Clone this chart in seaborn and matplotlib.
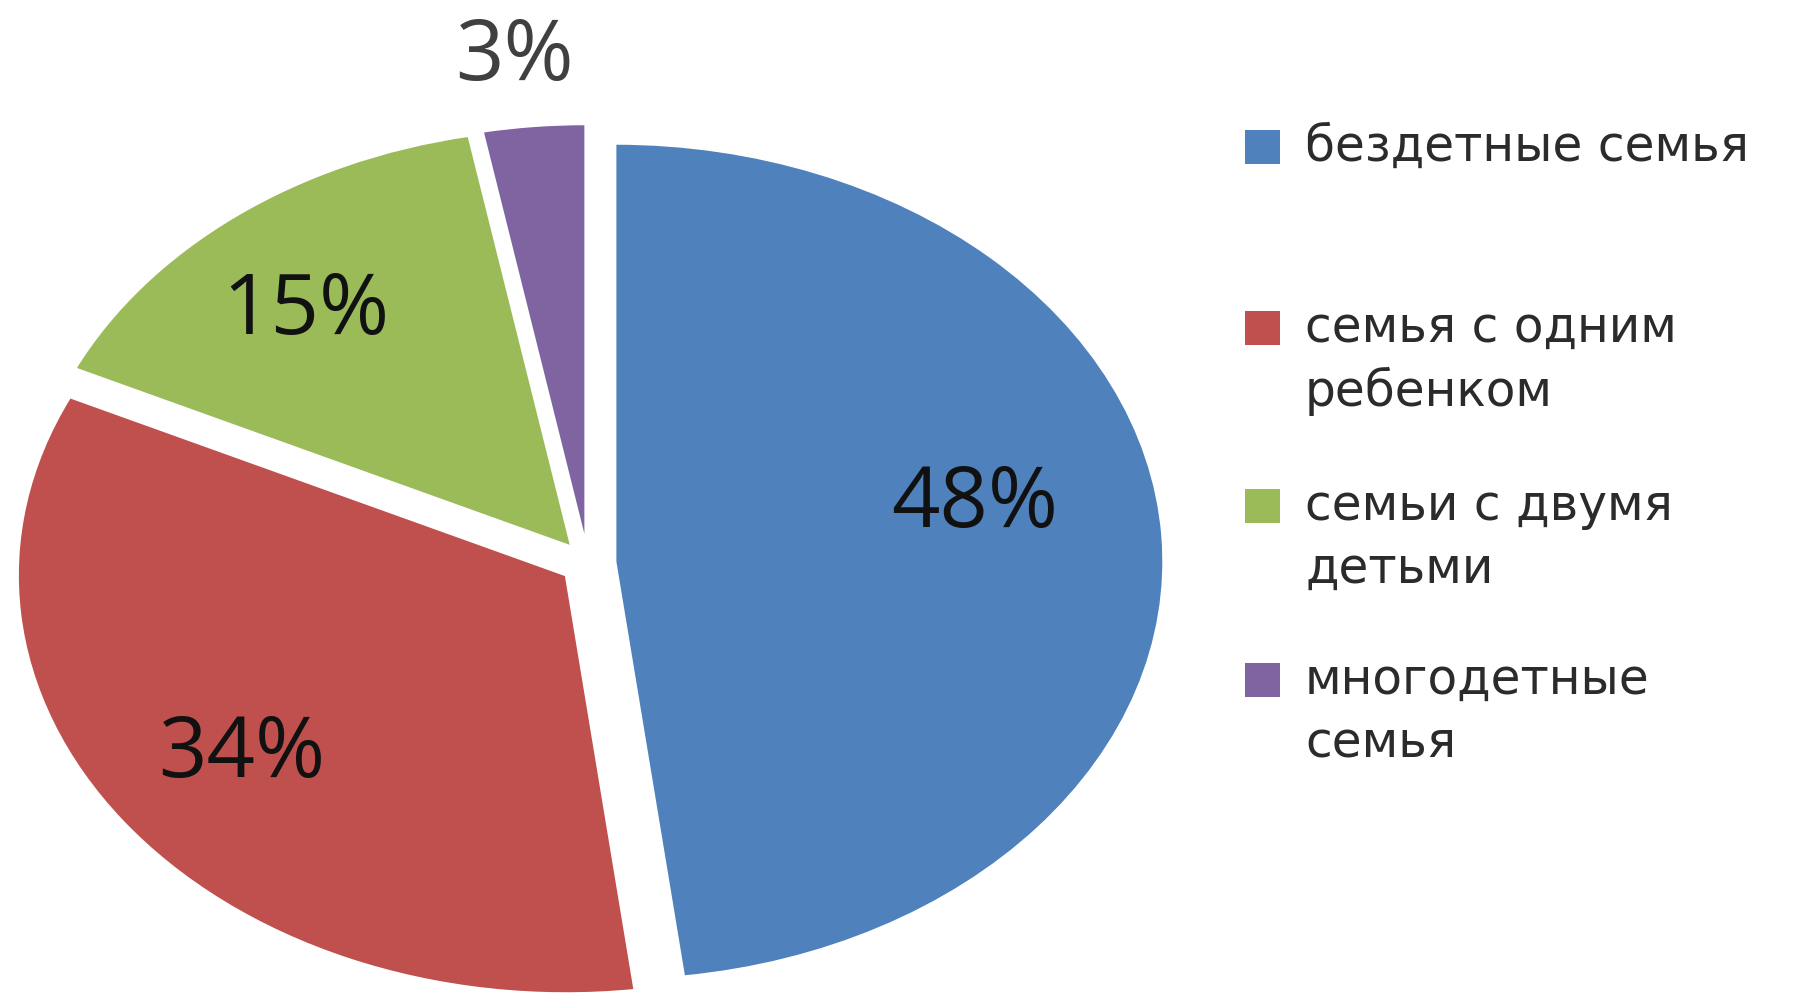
import numpy as np
import matplotlib
matplotlib.use("Agg")
import matplotlib.pyplot as plt
import seaborn as sns
from matplotlib.patches import Rectangle

# data
categories = ['бездетные семья', 'семья с одним\nребенком', 'семьи с двумя\nдетьми', 'многодетные\nсемья']
shares = [48, 34, 15, 3]
pct_labels = ['48%', '34%', '15%', '3%']
colors = ['#4F81BD', '#C0504D', '#9BBB59', '#8064A2']

sns.set_theme(style='white')
plt.rcParams['font.family'] = ['DejaVu Sans']

W, H = 1816, 994
fig = plt.figure(figsize=(W / 100, H / 100), dpi=100)
fig.set_facecolor('white')
ax = fig.add_axes([0, 0, 1, 1])

wedges, _ = ax.pie(shares, colors=colors, startangle=90, counterclock=False,
                   explode=[0.05] * len(shares),
                   wedgeprops=dict(edgecolor='white', linewidth=1.5))

# the original pie is squashed: wider than tall
cx, cy, rx, ry = 588, 563, 548, 418  # centre / radii in pixels
ax.set_aspect('auto')
ax.set_xlim(-cx / rx, (W - cx) / rx)
ax.set_ylim(-(H - cy) / ry, cy / ry)
ax.axis('off')

# percentage labels, placed along each wedge's bisector
label_dist = [0.67, 0.73, 0.74, 1.165]
label_nudge = [8, 0, 3, 1]
label_colors = ['#111111', '#111111', '#111111', '#404040']
for w, txt, d, nud, c in zip(wedges, pct_labels, label_dist, label_nudge, label_colors):
    mid = np.deg2rad((w.theta1 + w.theta2) / 2 + nud)
    x = w.center[0] + d * np.cos(mid)
    y = w.center[1] + d * np.sin(mid)
    ax.text(x, y, txt, ha='center', va='center', fontsize=61,
            color=c, family=['Open Sans', 'DejaVu Sans'])

# legend on the right, marker next to first line of each entry
entry_y = [147, 328, 506, 680]  # px from top
line_gap = 63
for label, col, ey in zip(categories, colors, entry_y):
    fig.patches.append(Rectangle((1245 / W, 1 - (ey + 17) / H), 35 / W, 34 / H,
                                 transform=fig.transFigure, facecolor=col,
                                 edgecolor='none'))
    for i, line in enumerate(label.split('\n')):
        fig.text(1305 / W, 1 - (ey + i * line_gap) / H, line, ha='left', va='center',
                 fontsize=35, color='#2b2b2b')

fig.savefig('out.png', dpi=100)
